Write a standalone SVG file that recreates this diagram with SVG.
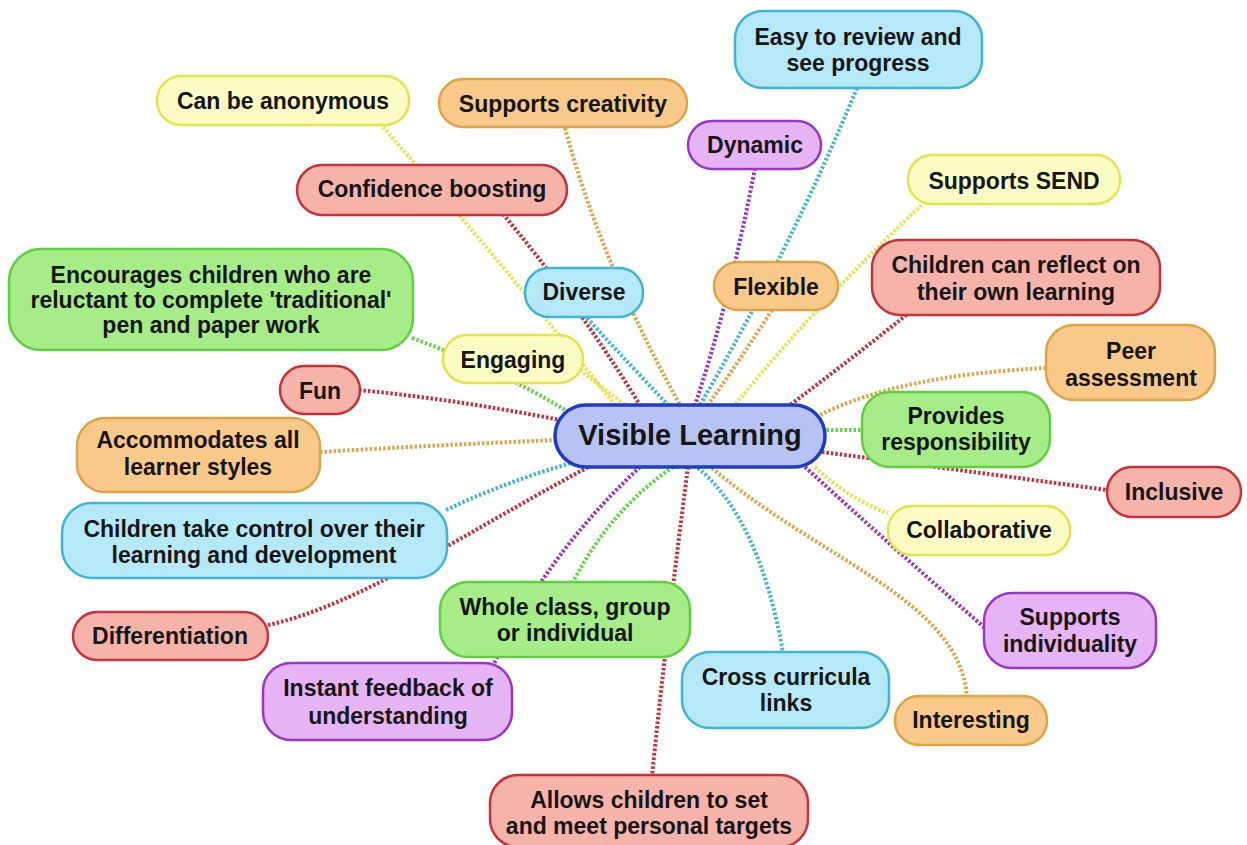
<svg xmlns="http://www.w3.org/2000/svg" width="1247" height="845" viewBox="0 0 1247 845">
<style>
text{font-family:"Liberation Sans",Arial,sans-serif;font-weight:bold;font-size:23px;fill:#161616;text-anchor:middle}
.n rect{stroke-width:2.5}
.cy rect{fill:#b5e9f7;stroke:#3db5d6}
.ye rect{fill:#fbfbc4;stroke:#e3e34a}
.or rect{fill:#f9c98a;stroke:#dea347}
.pu rect{fill:#e6b3f5;stroke:#9b35c9}
.re rect{fill:#f5b3aa;stroke:#c9303a}
.gr rect{fill:#a6ec87;stroke:#5fcf3f}
.c path{fill:none;stroke-width:4;stroke-dasharray:2.5 2}
.c .cy{stroke:#45b5d6}.c .ye{stroke:#e4e44e}.c .or{stroke:#e0a54c}.c .pu{stroke:#9a35c8}.c .re{stroke:#c2323f}.c .gr{stroke:#62d447}
</style>
<rect width="1247" height="845" fill="#ffffff"/>
<g id="connectors" class="c">
<path class="cy" d="M857,88 Q790,250 700,405"/>
<path class="pu" d="M755,168 Q730,300 695,405"/>
<path class="or" d="M772,310 Q740,360 708,405"/>
<path class="ye" d="M925,202 Q820,300 735,405"/>
<path class="re" d="M910,312 Q850,360 790,405"/>
<path class="or" d="M1046,368 Q900,375 820,415"/>
<path class="gr" d="M822,430 L862,430"/>
<path class="re" d="M822,452 Q960,470 1107,490"/>
<path class="ye" d="M815,467 Q850,500 888,513"/>
<path class="pu" d="M805,467 Q890,545 985,628"/>
<path class="or" d="M712,468 C820,560 960,600 967,697"/>
<path class="cy" d="M698,468 Q760,520 783,653"/>
<path class="re" d="M688,467 Q668,620 652,776"/>
<path class="gr" d="M673,467 Q610,510 573,582"/>
<path class="pu" d="M640,467 Q545,555 490,672"/>
<path class="cy" d="M446,510 Q510,480 575,462"/>
<path class="re" d="M268,625 C360,605 470,530 590,466"/>
<path class="or" d="M320,452 Q440,445 556,440"/>
<path class="re" d="M359,390 Q460,400 560,420"/>
<path class="gr" d="M412,338 Q500,370 565,410"/>
<path class="ye" d="M580,370 L625,405"/>
<path class="ye" d="M383,127 Q500,260 615,405"/>
<path class="re" d="M503,214 Q575,300 640,405"/>
<path class="cy" d="M587,318 Q630,365 668,405"/>
<path class="or" d="M565,128 Q600,260 680,405"/>
</g>
<g id="center">
<rect x="555" y="405" width="270" height="62" rx="31" fill="#b7c3f4" stroke="#1e3bc8" stroke-width="3.5"/>
<text x="690" y="445" style="font-size:29px">Visible Learning</text>
</g>
<g id="easy" class="n cy"><rect x="735" y="11" width="247" height="77" rx="28"/><text x="858" y="45">Easy to review and</text><text x="858" y="71">see progress</text></g>
<g id="anonymous" class="n ye"><rect x="157" y="76" width="252" height="49" rx="24"/><text x="283" y="109">Can be anonymous</text></g>
<g id="creativity" class="n or"><rect x="439" y="79" width="248" height="48" rx="24"/><text x="563" y="112">Supports creativity</text></g>
<g id="dynamic" class="n pu"><rect x="688" y="121" width="133" height="48" rx="24"/><text x="755" y="153">Dynamic</text></g>
<g id="send" class="n ye"><rect x="908" y="155" width="212" height="49" rx="24"/><text x="1014" y="189">Supports SEND</text></g>
<g id="confidence" class="n re"><rect x="297" y="165" width="270" height="50" rx="25"/><text x="432" y="197">Confidence boosting</text></g>
<g id="encourages" class="n gr"><rect x="9" y="249" width="404" height="101" rx="32"/><text x="211" y="283">Encourages children who are</text><text x="211" y="308">reluctant to complete 'traditional'</text><text x="211" y="333">pen and paper work</text></g>
<g id="diverse" class="n cy"><rect x="525" y="268" width="118" height="49" rx="24"/><text x="584" y="300">Diverse</text></g>
<g id="flexible" class="n or"><rect x="714" y="262" width="124" height="48" rx="24"/><text x="776" y="295">Flexible</text></g>
<g id="reflect" class="n re"><rect x="872" y="240" width="288" height="75" rx="28"/><text x="1016" y="273">Children can reflect on</text><text x="1016" y="300">their own learning</text></g>
<g id="peer" class="n or"><rect x="1046" y="325" width="169" height="75" rx="28"/><text x="1131" y="359">Peer</text><text x="1131" y="386">assessment</text></g>
<g id="provides" class="n gr"><rect x="862" y="392" width="188" height="75" rx="28"/><text x="956" y="424">Provides</text><text x="956" y="450">responsibility</text></g>
<g id="inclusive" class="n re"><rect x="1107" y="467" width="134" height="50" rx="25"/><text x="1174" y="500">Inclusive</text></g>
<g id="collaborative" class="n ye"><rect x="888" y="506" width="182" height="49" rx="24"/><text x="979" y="538">Collaborative</text></g>
<g id="individuality" class="n pu"><rect x="984" y="593" width="172" height="75" rx="28"/><text x="1070" y="625">Supports</text><text x="1070" y="652">individuality</text></g>
<g id="interesting" class="n or"><rect x="895" y="696" width="152" height="49" rx="24"/><text x="971" y="728">Interesting</text></g>
<g id="cross" class="n cy"><rect x="682" y="652" width="207" height="76" rx="28"/><text x="786" y="685">Cross curricula</text><text x="786" y="711">links</text></g>
<g id="allows" class="n re"><rect x="490" y="775" width="318" height="72" rx="28"/><text x="649" y="808">Allows children to set</text><text x="649" y="834">and meet personal targets</text></g>
<g id="instant" class="n pu"><rect x="263" y="663" width="249" height="77" rx="28"/><text x="388" y="696">Instant feedback of</text><text x="388" y="724">understanding</text></g>
<g id="whole" class="n gr"><rect x="440" y="582" width="250" height="75" rx="28"/><text x="565" y="615">Whole class, group</text><text x="565" y="641">or individual</text></g>
<g id="differentiation" class="n re"><rect x="73" y="612" width="195" height="48" rx="24"/><text x="170" y="644">Differentiation</text></g>
<g id="control" class="n cy"><rect x="62" y="503" width="385" height="75" rx="30"/><text x="254" y="537">Children take control over their</text><text x="254" y="563">learning and development</text></g>
<g id="accommodates" class="n or"><rect x="77" y="418" width="243" height="74" rx="28"/><text x="198" y="448">Accommodates all</text><text x="198" y="475">learner styles</text></g>
<g id="fun" class="n re"><rect x="280" y="366" width="80" height="48" rx="24"/><text x="320" y="399">Fun</text></g>
<g id="engaging" class="n ye"><rect x="443" y="335" width="140" height="48" rx="24"/><text x="513" y="368">Engaging</text></g>
</svg>
